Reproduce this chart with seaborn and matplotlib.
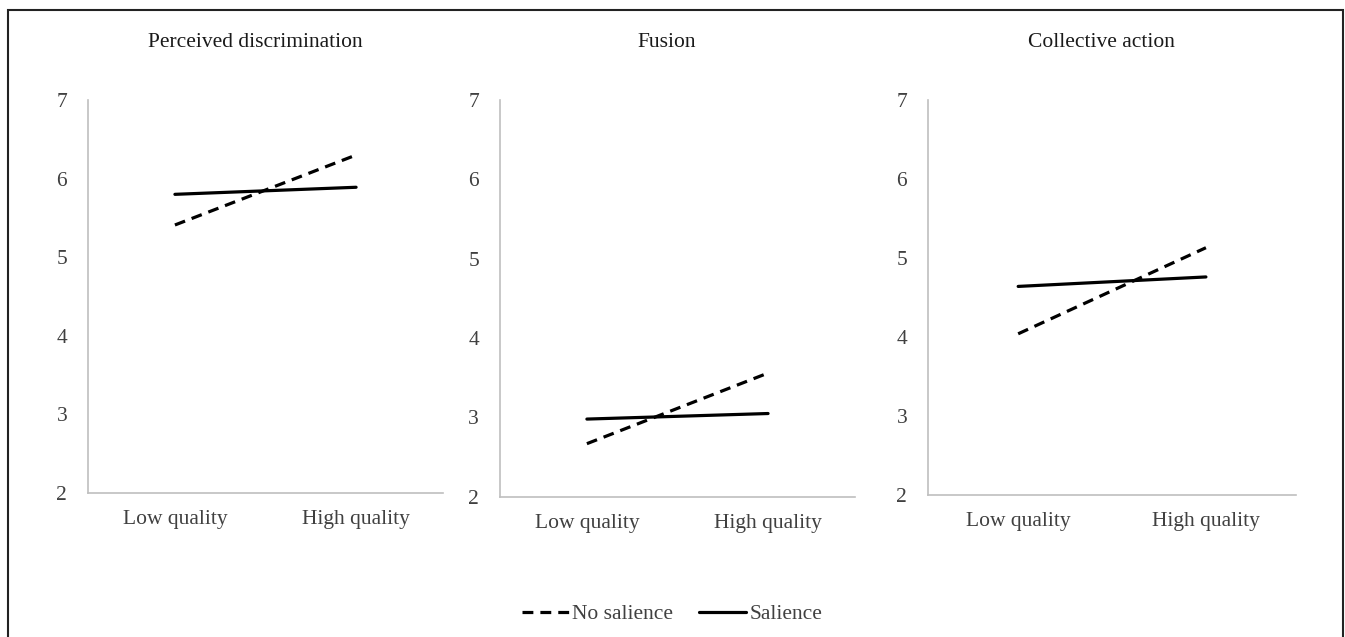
import matplotlib
matplotlib.use('Agg')
import matplotlib.pyplot as plt
from matplotlib.patches import Rectangle
import numpy as np
import pandas as pd
import seaborn as sns

# values
quality = ['Low quality', 'High quality']
panels = ['Perceived discrimination', 'Fusion', 'Collective action']
no_salience = [[5.41, 6.30], [2.67, 3.56], [4.04, 5.13]]
salience = [[5.80, 5.89], [2.98, 3.05], [4.64, 4.76]]
yticks = [2, 3, 4, 5, 6, 7]

rows = []
for p, name in enumerate(panels):
    for i, q in enumerate(quality):
        rows.append({'Panel': name, 'Quality': q, 'Pos': i, 'Condition': 'No salience', 'Score': no_salience[p][i]})
        rows.append({'Panel': name, 'Quality': q, 'Pos': i, 'Condition': 'Salience', 'Score': salience[p][i]})
Data = pd.DataFrame(rows)

sns.set_style('white')
plt.rcParams['font.family'] = ['Liberation Serif', 'DejaVu Serif']
FS = 15.5

fig = plt.figure(figsize=(13.45, 6.37), dpi=100)
# axes boxes (left, bottom, width, height) in figure fractions
boxes = [(0.0654, 0.226, 0.264, 0.617),
         (0.3717, 0.220, 0.264, 0.623),
         (0.6900, 0.223, 0.2736, 0.620)]

axes = []
for p, name in enumerate(panels):
    ax = fig.add_axes(boxes[p])
    sub = Data[Data['Panel'] == name]
    sns.lineplot(data=sub, x='Pos', y='Score', style='Condition',
                 style_order=['No salience', 'Salience'],
                 dashes={'No salience': (3.4, 2.2), 'Salience': ''},
                 color='black', linewidth=2.3, ax=ax, legend=(p == 0))
    ax.set_xlim(-0.48, 1.48)
    ax.set_ylim(2, 7)
    ax.set_yticks(yticks)
    ax.set_xticks([0, 1])
    ax.set_xticklabels(quality)
    ax.set_xlabel('')
    ax.set_ylabel('')
    ax.tick_params(axis='both', length=0, labelsize=FS, colors='#404040')
    ax.tick_params(axis='x', pad=12)
    ax.tick_params(axis='y', pad=15)
    for s in ['top', 'right']:
        ax.spines[s].set_visible(False)
    for s in ['left', 'bottom']:
        ax.spines[s].set_color('#bfbfbf')
        ax.spines[s].set_linewidth(1.2)
    ax.set_title(name, fontsize=FS, x=0.47, pad=38, color='#1a1a1a')
    axes.append(ax)

handles, labels = axes[0].get_legend_handles_labels()
axes[0].get_legend().remove()
fig.legend(handles, labels, loc='center', bbox_to_anchor=(0.4996, 0.036),
           ncol=2, frameon=False, fontsize=FS, handlelength=2.2,
           handletextpad=0.15, columnspacing=1.2, labelcolor='#404040')

# outer frame around the figure (open at the bottom)
fig.patches.append(Rectangle((8 / 1345, -0.05), (1343 - 8) / 1345, 1.05 - 10 / 637,
                             transform=fig.transFigure, fill=False,
                             edgecolor='#222222', linewidth=1.5))

fig.savefig('out.png', dpi=100)
